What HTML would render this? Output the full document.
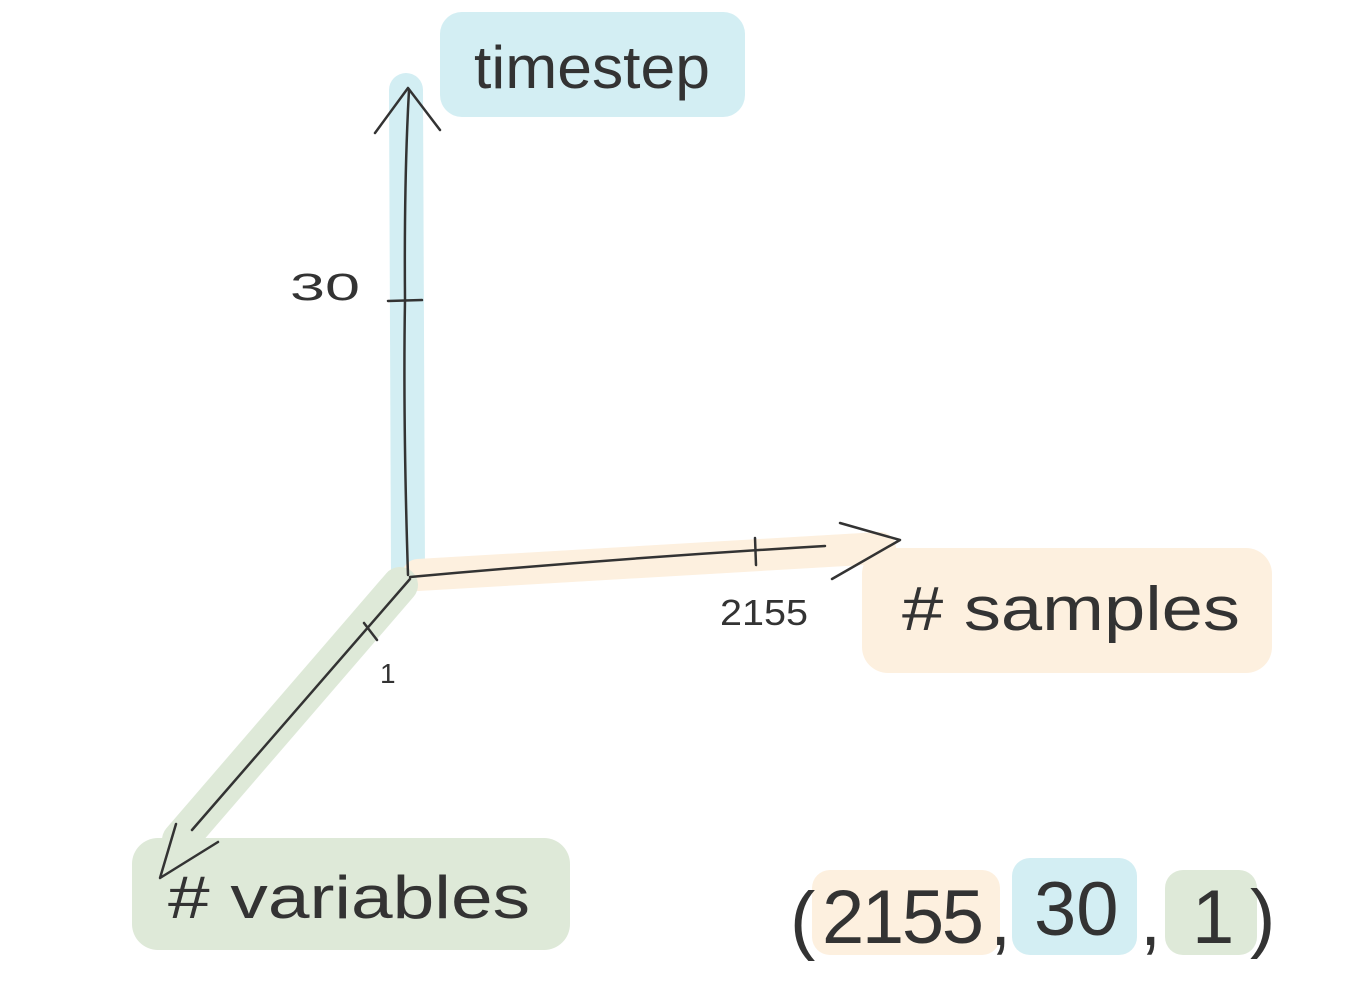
<!DOCTYPE html>
<html><head><meta charset="utf-8"><style>
html,body{margin:0;padding:0;background:#fff;}
svg{display:block;}
text{font-family:"Liberation Sans",sans-serif;fill:#333;}
</style></head><body>
<svg width="1372" height="1008" viewBox="0 0 1372 1008" xmlns="http://www.w3.org/2000/svg">
<g stroke-linecap="round" fill="none">
<line x1="406" y1="90" x2="408" y2="572" stroke="#d3eef3" stroke-width="34"/>
<line x1="418" y1="575" x2="880" y2="548" stroke="#fdf0df" stroke-width="32"/>
<line x1="400" y1="585" x2="180" y2="840" stroke="#dee9d8" stroke-width="36"/>
</g>
<rect x="440" y="12" width="305" height="105" rx="22" fill="#d3eef3"/>
<rect x="862" y="548" width="410" height="125" rx="26" fill="#fdf0df"/>
<rect x="132" y="838" width="438" height="112" rx="26" fill="#dee9d8"/>
<rect x="812" y="870" width="188" height="85" rx="18" fill="#fdf0df"/>
<rect x="1012" y="858" width="125" height="97" rx="18" fill="#d3eef3"/>
<rect x="1165" y="870" width="92" height="85" rx="18" fill="#dee9d8"/>
<g stroke="#333" stroke-width="2.5" fill="none" stroke-linecap="round" stroke-linejoin="round">
<path d="M408 575 Q403 420 405 300 Q404 180 409 90"/>
<path d="M375 133 L408 88 L440 130"/>
<line x1="388" y1="301" x2="422" y2="300"/>
<path d="M410 577 Q620 558 825 546"/>
<path d="M840 523 L900 540 L832 579"/>
<line x1="755" y1="538" x2="756" y2="565"/>
<path d="M410 579 L192 830"/>
<path d="M218 842 L160 878 L176 824"/>
<line x1="364" y1="623" x2="377" y2="640"/>
</g>
<text x="290" y="300" font-size="38" textLength="70" lengthAdjust="spacingAndGlyphs">30</text>
<text x="720" y="625" font-size="36" textLength="88" lengthAdjust="spacingAndGlyphs">2155</text>
<text x="380" y="683" font-size="28">1</text>
<text x="474" y="88" font-size="60" textLength="236" lengthAdjust="spacingAndGlyphs">timestep</text>
<text x="902" y="630" font-size="62" textLength="338" lengthAdjust="spacingAndGlyphs"># samples</text>
<text x="168" y="918" font-size="60" textLength="362" lengthAdjust="spacingAndGlyphs"># variables</text>
<g font-size="76">
<text x="790" y="945">(</text>
<text x="822" y="943" textLength="162" lengthAdjust="spacing">2155</text>
<text x="990" y="945">,</text>
<text x="1034" y="935">30</text>
<text x="1140" y="945">,</text>
<text x="1192" y="943">1</text>
<text x="1250" y="943">)</text>
</g>
</svg>
</body></html>
